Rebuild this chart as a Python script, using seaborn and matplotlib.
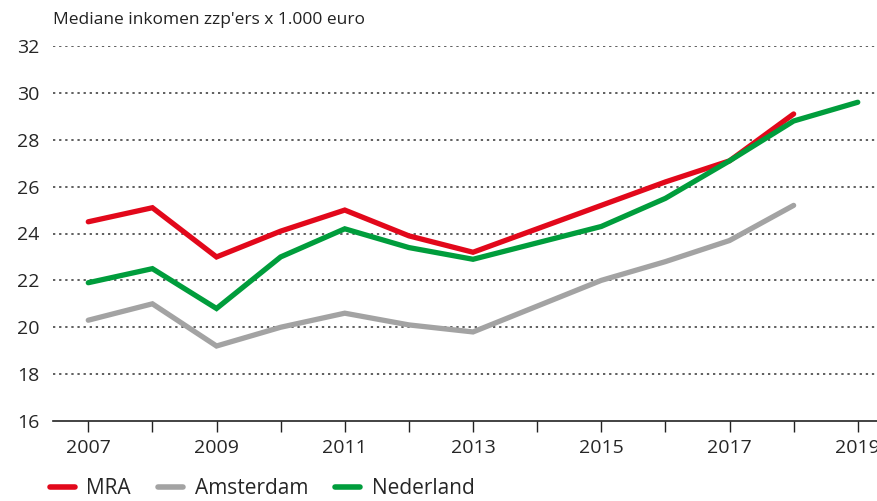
import numpy as np
import pandas as pd
import seaborn as sns
import matplotlib.pyplot as plt
from matplotlib.ticker import MultipleLocator

years = list(range(2007, 2020))
mra = [24.5, 25.1, 23.0, 24.1, 25.0, 23.9, 23.2, 24.2, 25.2, 26.2, 27.1, 29.1, None]
amsterdam = [20.3, 21.0, 19.2, 20.0, 20.6, 20.1, 19.8, 20.9, 22.0, 22.8, 23.7, 25.2, None]
nederland = [21.9, 22.5, 20.8, 23.0, 24.2, 23.4, 22.9, 23.6, 24.3, 25.5, 27.1, 28.8, 29.6]
series_names = ['MRA', 'Amsterdam', 'Nederland']
colors = ['#e2081b', '#a3a3a3', '#009d3c']
y_ticks = [16, 18, 20, 22, 24, 26, 28, 30, 32]
title = "Mediane inkomen zzp'ers x 1.000 euro"

df = pd.DataFrame({'jaar': years, 'MRA': mra, 'Amsterdam': amsterdam, 'Nederland': nederland})
df = df.melt(id_vars='jaar', var_name='regio', value_name='inkomen').dropna()

sns.set_style('white')
plt.rcParams['font.family'] = ['Open Sans', 'DejaVu Sans']

fig = plt.figure(figsize=(8.77, 5.01), dpi=100)
ax = fig.add_axes([53 / 877, 80 / 501, 1 - 53 / 877, (421 - 46) / 501])

sns.lineplot(data=df, x='jaar', y='inkomen', hue='regio', hue_order=series_names,
             palette=colors, linewidth=3.8, ax=ax, legend=False)
for line in ax.get_lines():
    line.set_solid_capstyle('round')
    line.set_solid_joinstyle('miter')

ax.set_xlim(2006.45, 2019.3)
ax.set_ylim(16, 32)
ax.set_yticks(y_ticks)
ax.set_xticks(range(2007, 2020, 2))
ax.xaxis.set_minor_locator(MultipleLocator(1))
for y in y_ticks[1:]:
    ax.axhline(y, color='#333333', linestyle=(0, (1.5, 2.5)), linewidth=1.1, zorder=0)

for s in ['top', 'right', 'left']:
    ax.spines[s].set_visible(False)
ax.spines['bottom'].set_color('#222222')
ax.spines['bottom'].set_linewidth(1.2)
ax.tick_params(axis='x', which='both', direction='out', length=8, width=1, color='#222222',
               labelsize=14, pad=5, bottom=True)
ax.tick_params(axis='y', length=0, labelsize=14, pad=10)
ax.set_xlabel('')
ax.set_ylabel('')

fig.text(53 / 877, 1 - 20 / 501, title, fontsize=12.5, va='center', ha='left', color='#222222')

handles = [plt.Line2D([], [], color=c, linewidth=4, solid_capstyle='round') for c in colors]
fig.legend(handles, series_names, loc='center left', bbox_to_anchor=(50 / 877, 1 - 489 / 501),
           ncol=3, frameon=False, fontsize=15, handlelength=1.2, columnspacing=1.3,
           handletextpad=0.55, borderpad=0, borderaxespad=0)

fig.savefig('out.png', dpi=100)
